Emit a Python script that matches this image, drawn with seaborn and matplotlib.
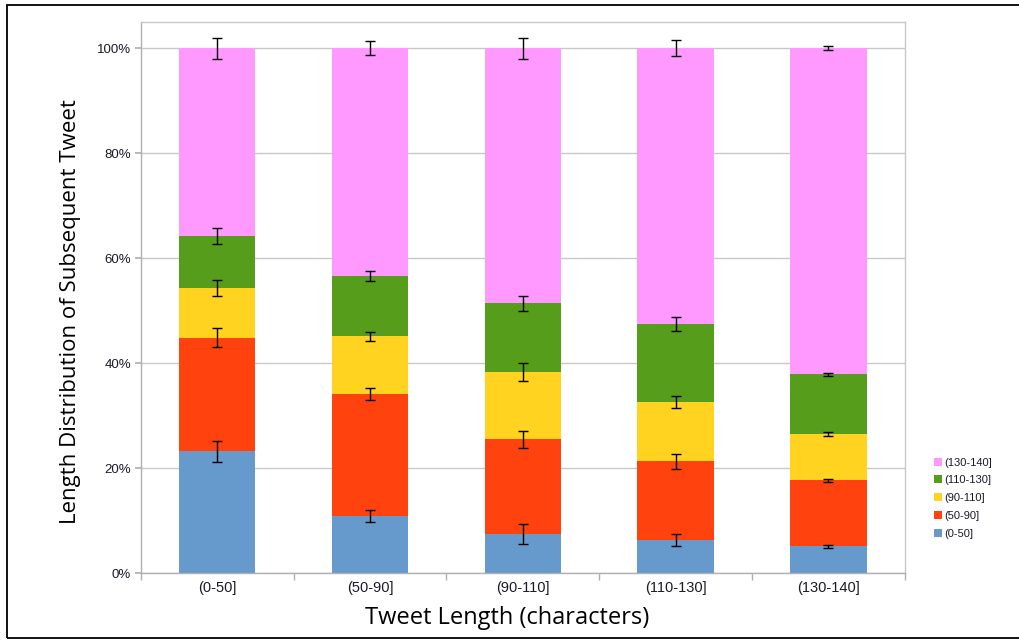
import numpy as np
import pandas as pd
import matplotlib
matplotlib.use("Agg")
import matplotlib.pyplot as plt
import seaborn as sns
from matplotlib.lines import Line2D
from matplotlib.patches import Rectangle

# tweet length bins (x categories) and the subsequent-tweet length bins (stack segments)
categories = ["(0-50]", "(50-90]", "(90-110]", "(110-130]", "(130-140]"]
segments = ["(0-50]", "(50-90]", "(90-110]", "(110-130]", "(130-140]"]

# share of each segment, in %
share_0_50 = [23.2, 10.9, 7.4, 6.3, 5.1]
share_50_90 = [21.6, 23.2, 18.1, 15.0, 12.6]
share_90_110 = [9.5, 11.0, 12.8, 11.3, 8.8]
share_110_130 = [9.9, 11.5, 13.1, 14.8, 11.4]
share_130_140 = [35.8, 43.4, 48.6, 52.6, 62.1]

# error (+/-) at the top of each segment, in %
err_0_50 = [2.0, 1.2, 1.9, 1.2, 0.3]
err_50_90 = [1.8, 1.1, 1.6, 1.4, 0.3]
err_90_110 = [1.5, 0.9, 1.8, 1.2, 0.3]
err_110_130 = [1.6, 0.9, 1.4, 1.3, 0.3]
err_130_140 = [2.0, 1.3, 2.0, 1.6, 0.3]

colors = ["#6699cc", "#ff420e", "#ffd320", "#579d1c", "#ff99ff"]

shares = [share_0_50, share_50_90, share_90_110, share_110_130, share_130_140]
errs = [err_0_50, err_50_90, err_90_110, err_110_130, err_130_140]

sns.set_theme(style="white")
plt.rcParams['font.family'] = ['Liberation Sans', 'DejaVu Sans']

fig = plt.figure(figsize=(10.2, 6.41), dpi=100)
ax = fig.add_axes([0.138, 0.106, 0.749, 0.860])

# cumulative tops, then draw from the tallest layer down so each shows
tops = np.cumsum(np.array(shares), axis=0) / 100.0
for i in range(len(segments) - 1, -1, -1):
    df = pd.DataFrame({"cat": categories, "top": tops[i]})
    sns.barplot(data=df, x="cat", y="top", color=colors[i], width=0.5,
                saturation=1, ax=ax, zorder=2, linewidth=0)

for i in range(len(segments)):
    ax.errorbar(np.arange(len(categories)), tops[i], yerr=np.array(errs[i]) / 100.0,
                fmt="none", ecolor="black", elinewidth=1, capsize=3.5,
                capthick=1, zorder=3)

ax.set_xlim(-0.5, 4.5)
ax.set_ylim(0, 1.05)
ax.set_yticks([0, 0.2, 0.4, 0.6, 0.8, 1.0])
ax.set_yticklabels(["0%", "20%", "40%", "60%", "80%", "100%"], fontsize=9.5, color="#1a1a2a")
ax.set_xticks(range(len(categories)))
ax.set_xticklabels(categories, fontsize=10.5, color="#1a1a2a")
ax.grid(axis="y", color="#c8c8c8", linewidth=1, zorder=0)
ax.set_axisbelow(True)

for s in ax.spines.values():
    s.set_color("#c8c8c8")
    s.set_linewidth(1)
ax.spines["left"].set_color("#b0b0b0")
ax.spines["bottom"].set_color("#b0b0b0")

# ticks between categories on x, small outward ticks on y
ax.tick_params(axis="x", length=0, pad=6)
ax.tick_params(axis="y", length=4, color="#b0b0b0", pad=3, left=True)
ax.set_xticks(np.arange(-0.5, 5.0, 1.0), minor=True)
ax.tick_params(axis="x", which="minor", length=5, color="#b0b0b0", bottom=True)

ax.set_xlabel("Tweet Length (characters)", fontsize=17, color="black",
              family=["Open Sans", "DejaVu Sans"])
ax.set_ylabel("Length Distribution of Subsequent Tweet", fontsize=16, color="black",
              family=["Open Sans", "DejaVu Sans"])
ax.xaxis.set_label_coords(0.480, -0.059)
ax.yaxis.set_label_coords(-0.078, 0.474)

handles = [Line2D([], [], marker="s", linestyle="none", markersize=5.5, markerfacecolor=colors[i],
                  markeredgewidth=0) for i in range(len(segments) - 1, -1, -1)]
labels = [segments[i] for i in range(len(segments) - 1, -1, -1)]
fig.legend(handles, labels, loc="center left", bbox_to_anchor=(0.908, 0.223), frameon=False,
           fontsize=8, handletextpad=0.0, labelspacing=0.7, handlelength=1.1, borderpad=0,
           labelcolor="#1a1a2a")

# outer frame around the whole picture
fig.patches.append(Rectangle((0.007, 0.004), 1.05, 0.988, transform=fig.transFigure,
                             fill=False, edgecolor="black", linewidth=1.3))

fig.savefig("out.png", dpi=100)
